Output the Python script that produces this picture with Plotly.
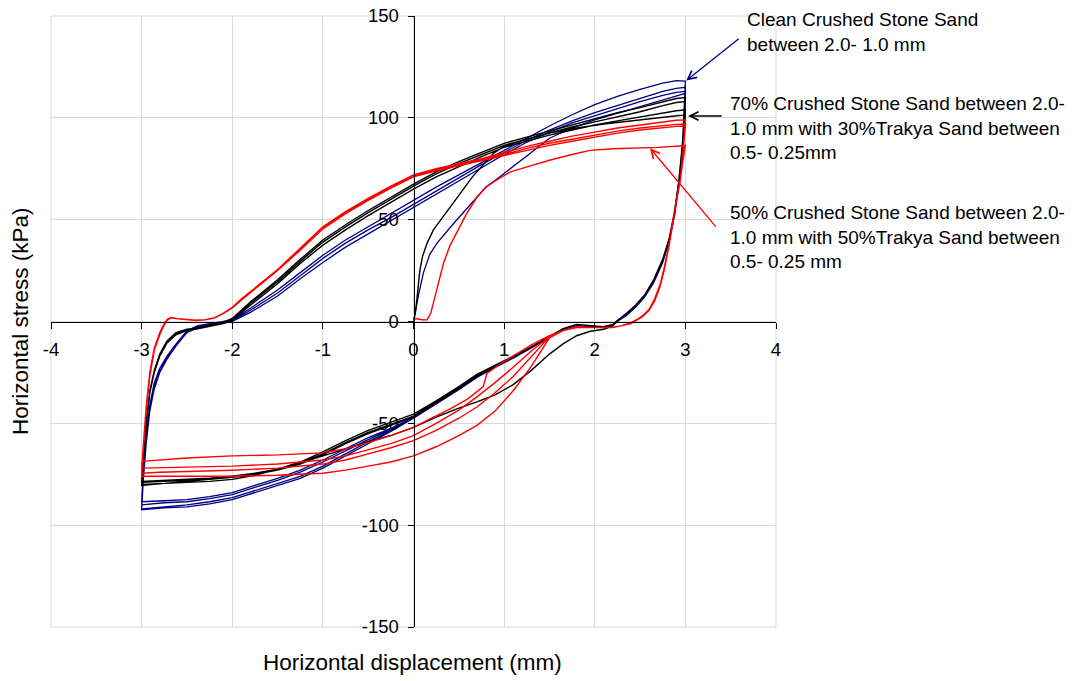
import plotly.graph_objects as go

# ---------------- tick labels ----------------
X_TICKS = [-4, -3, -2, -1, 0, 1, 2, 3, 4]
X_TICK_TEXT = ['-4', '-3', '-2', '-1', '0', '1', '2', '3', '4']
Y_TICKS = [-150, -100, -50, 0, 50, 100, 150]
Y_TICK_TEXT = ['-150', '-100', '-50', '0', '50', '100', '150']

# ---------------- Clean crushed stone sand (blue) ----------------
BLUE_INIT_X = [0.0, 0.02, 0.06, 0.11, 0.18, 0.26, 0.35, 0.44, 0.55, 0.65, 0.8, 0.95, 1.1, 1.3, 1.5, 1.75, 2.0, 2.3, 2.6, 2.85, 3.0]
BLUE_INIT_Y = [0.0, 5, 14, 24, 33, 38.5, 43.5, 48, 53.5, 58.5, 66, 71, 76, 83, 90, 95, 99, 103, 107, 110, 112]
BLUE_DOWN_X = [3.0, 2.97, 2.93, 2.88, 2.82, 2.75, 2.65, 2.55, 2.45, 2.35, 2.25, 2.2, 2.1, 1.95, 1.8, 1.65, 1.5, 1.3, 1.1, 0.9,
               0.7, 0.5, 0.25, 0.0, -0.25, -0.5, -0.75, -1.0, -1.25, -1.5, -1.75, -2.0, -2.25, -2.5, -2.75, -3.0]
BLUE_DOWN_Y = [
    [112, 86, 68, 52, 39, 29, 19, 12, 7, 3, 0, -2, -3, -2.5, -2, -4, -8, -13, -18, -22.5,
     -27.5, -33.5, -40.5, -47, -52.5, -57, -62.5, -68, -73, -77, -80.5, -84, -86, -87.5, -88, -88.5],
    [118, 89, 70, 53, 40, 30, 20, 12.5, 7.5, 3.5, 0.5, -1.5, -2.5, -2.5, -2, -4, -8, -13, -17.5, -22,
     -27, -33, -40, -47, -53.5, -59, -65, -71, -76, -79.5, -83, -86.5, -88.5, -90, -91, -92],
    [115, 88, 69, 52, 39, 29, 19, 12, 7, 3, 0, -2, -3, -2.5, -2, -4, -8, -13, -17.5, -22,
     -27, -33, -40, -47.5, -54, -60, -66, -72, -77, -80.5, -84, -87.5, -89.5, -91, -91.5, -92.5],
    [113, 87, 68, 52, 39, 29, 19, 12, 7, 3, 0, -2, -3, -2.5, -2, -4, -8, -13, -18, -22.5,
     -27.5, -33.5, -40.5, -47.5, -53, -58, -63.5, -69, -74, -78, -81.5, -85, -87, -88.5, -89, -90],
]
BLUE_UP_X = [-3.0, -2.98, -2.95, -2.91, -2.86, -2.8, -2.72, -2.62, -2.5, -2.38, -2.25, -2.1, -2.0, -1.8, -1.5, -1.25, -1.0,
             -0.75, -0.5, -0.25, 0.0, 0.25, 0.5, 0.75, 1.0, 1.25, 1.5, 1.75, 2.0, 2.25, 2.5, 2.75, 2.9, 3.0]
BLUE_UP_Y = [
    [-88.5, -74, -57, -41, -30, -23, -17, -11, -4.5, -2, -1, -0.2, 0.8, 6.5, 15.5, 24, 32.5,
     40, 46.5, 53, 59.5, 66, 72, 78, 84, 90, 96, 101.5, 106.5, 110.5, 114, 117, 118.3, 118],
    [-92, -76, -59, -43, -32, -24.5, -18, -11.5, -5, -2.5, -1.3, -0.5, 0.3, 5.5, 14, 22.5, 31,
     38.5, 45, 51, 57.5, 64, 70.5, 77, 83, 89, 94, 98.5, 102.5, 106, 109.5, 113, 114.5, 115],
    [-92.5, -77, -60, -44, -33, -25, -18.5, -12, -5.5, -3, -1.6, -0.8, 0, 4.5, 12.5, 21, 29,
     36.5, 43, 49.5, 56, 62.5, 69, 75.5, 82, 88, 93, 97.5, 101, 104.5, 108, 111, 112.5, 113],
]

# ---------------- 70% crushed stone + 30% Trakya sand (black) ----------------
BLACK_INIT_X = [0.0, 0.02, 0.04, 0.07, 0.1, 0.15, 0.22, 0.33, 0.44, 0.55, 0.65, 0.75, 0.88, 1.0, 1.2, 1.5, 1.8, 2.1, 2.4, 2.7, 2.9, 3.0]
BLACK_INIT_Y = [0.0, 4, 12, 25, 32, 38.5, 45, 51.5, 58, 65, 71, 76, 82.5, 86, 89, 92.5, 95, 97, 98.5, 100, 101, 101.5]
BLACK_DOWN_X = [3.0, 2.97, 2.93, 2.88, 2.82, 2.75, 2.65, 2.55, 2.45, 2.35, 2.25, 2.2, 2.1, 1.95, 1.8, 1.65, 1.5, 1.3, 1.1, 0.9,
                0.7, 0.5, 0.25, 0.0, -0.25, -0.5, -0.75, -1.0, -1.25, -1.5, -1.75, -2.0, -2.25, -2.5, -2.75, -3.0]
BLACK_DOWN_Y = [
    [101.5, 84, 68, 53, 40, 30, 20, 13, 8, 4, 0.5, -2, -3.8, -4.8, -7, -11, -16, -24, -31, -36,
     -39.5, -42.5, -47, -52, -56, -59, -62.5, -66, -69.5, -72.5, -75, -76.5, -77.5, -78.5, -79.5, -80],
    [110, 86, 69, 53.5, 40.5, 30.5, 20.5, 13, 8, 4, 0.5, -1.5, -2.5, -2, -1.5, -3.5, -7.5, -12.5, -17, -21.5,
     -26, -32, -39, -45.5, -49.5, -53.5, -58.5, -64, -69, -72.5, -75.5, -77.5, -78.5, -79, -79.5, -80.5],
    [108, 85, 68.5, 53, 40, 30, 20, 13, 8, 4, 0.5, -1.5, -2.5, -2, -1.5, -3.5, -7.5, -12.5, -17, -21.5,
     -26.5, -32.5, -39.5, -46.5, -50.5, -54.5, -59.5, -65, -69.5, -72.5, -74.5, -76, -77, -77.5, -78, -78.5],
    [104, 84, 68, 53, 40, 30, 20, 13, 8, 4, 0.5, -1.5, -2.5, -2, -1.5, -3.5, -7.5, -12.5, -17.5, -22,
     -27, -33, -40, -47, -51, -55, -60, -65.5, -70, -73, -75, -76.5, -77.5, -78, -78.5, -79],
]
BLACK_UP_X = [-3.0, -2.98, -2.95, -2.91, -2.86, -2.8, -2.72, -2.62, -2.5, -2.38, -2.25, -2.1, -2.0, -1.8, -1.5, -1.25, -1.0,
              -0.75, -0.5, -0.25, 0.0, 0.25, 0.5, 0.75, 1.0, 1.25, 1.5, 1.75, 2.0, 2.25, 2.5, 2.75, 2.9, 3.0]
BLACK_UP_Y = [
    [-80, -66, -50, -34, -24, -16, -9.5, -5.5, -3.8, -3.2, -2, -0.3, 1.5, 9.5, 20.5, 30.5, 40,
     47.5, 54.5, 61, 67.5, 73.5, 78.5, 83, 87.5, 90.5, 93.5, 96.5, 99.5, 102.5, 105, 108, 109.5, 110],
    [-80.5, -67, -51, -35, -25, -16.5, -10, -6, -4, -3.4, -2.2, -0.6, 1, 9, 19.5, 29.5, 39,
     46.5, 53.5, 60, 66.5, 72.5, 77.5, 82, 86.5, 89.5, 92.5, 95.5, 98, 100.5, 103, 106, 107.5, 108],
    [-78.5, -66, -51, -35, -25, -17, -10.5, -6.5, -4.3, -3.6, -2.4, -1, 0.5, 8, 18.5, 28.5, 37.5,
     45, 52, 58.5, 65, 71, 76, 81, 85.5, 88.5, 91.5, 94, 96.5, 98.5, 100.5, 102.5, 103.5, 104],
]

# ---------------- 50% crushed stone + 50% Trakya sand (red) ----------------
RED_INIT_X = [0.0, 0.01, 0.05, 0.1, 0.15, 0.19, 0.23, 0.27, 0.33, 0.4, 0.48, 0.58, 0.7, 0.8, 0.9, 1.07, 1.3, 1.51, 1.75, 1.95,
              2.2, 2.45, 2.7, 2.94, 3.0]
RED_INIT_Y = [0.0, 1.5, 1.2, 0.8, 0.8, 4, 11, 18, 28.5, 37, 44, 52.5, 61, 66, 69, 73.5, 76.5, 79.3, 82, 84,
              84.8, 85.1, 85.5, 86.2, 86.5]
RED_DOWN_X = [3.0, 2.97, 2.94, 2.9, 2.86, 2.82, 2.77, 2.72, 2.66, 2.6, 2.53, 2.47, 2.4, 2.3, 2.2, 2.0, 1.8, 1.65, 1.5, 1.3,
              1.1, 0.9, 0.7, 0.5, 0.25, 0.0, -0.25, -0.5, -0.75, -1.0, -1.5, -2.0, -2.5, -2.8, -3.0]
RED_DOWN_Y = [
    [86.5, 78, 68, 59, 48, 37, 26, 17, 10, 5.5, 2.5, 1, -1, -2, -3, -3, -3, -4.5, -8, -22,
     -34, -44, -51, -56, -61.5, -66, -69, -71, -73, -74.5, -75.5, -76, -76, -76, -76],
    [99, 81, 69, 60, 49, 38, 27, 18, 11, 6, 3, 1, -0.5, -2, -2.8, -3, -2.5, -4.5, -7.5, -17,
     -27, -35, -42, -47.5, -53.5, -58.5, -62, -65, -68, -70, -72, -73, -73.5, -74, -74.5],
    [97, 80, 69, 60, 49, 38, 27, 18, 11, 6, 3, 1, -0.5, -2, -2.8, -3, -2.5, -4.5, -7.5, -14.5,
     -22.5, -30, -37, -43.5, -50, -56, -60, -63, -66, -68, -70, -71, -71.5, -72, -72],
]
RED_UP_X = [-3.0, -2.98, -2.95, -2.91, -2.86, -2.8, -2.76, -2.72, -2.68, -2.6, -2.5, -2.4, -2.3, -2.2, -2.1, -2.0, -1.9, -1.75,
            -1.5, -1.25, -1.0, -0.75, -0.5, -0.25, 0.0, 0.25, 0.5, 0.75, 1.0, 1.25, 1.5, 1.75, 2.0, 2.25, 2.5, 2.75, 2.9, 3.0]
RED_UP_Y = [
    [-76, -62, -44, -27, -14, -6.5, -2.5, 0.5, 1.8, 1.4, 0.9, 0.6, 0.9, 1.8, 4, 7, 11, 16.5,
     25.5, 36, 46.5, 54, 60.5, 66.5, 72, 75, 77.5, 80, 83, 86, 88.5, 91, 93, 95, 96.5, 98, 98.8, 99],
    [-74.5, -61, -43, -26, -13.5, -6, -2, 0.8, 1.8, 1.3, 0.8, 0.5, 0.8, 1.7, 3.8, 6.7, 10.5, 16,
     25, 35.5, 46, 53.5, 60, 66, 71.5, 74.5, 77, 79.5, 82, 85, 87.5, 89.5, 91.5, 93.5, 95, 96.3, 96.8, 97],
    [-72, -60, -42, -25, -13, -5.5, -1.8, 1, 2, 1.4, 0.9, 0.6, 0.9, 1.8, 4, 6.8, 10.8, 16.2,
     25, 35, 45.5, 53, 59.5, 65.5, 71, 74, 76.5, 79, 81.5, 84, 86.5, 88.5, 90.5, 92.5, 94, 95.3, 95.8, 96],
]
RED_LAST_DOWN_X = [3.0, 2.97, 2.94, 2.9, 2.86, 2.82, 2.77, 2.72, 2.66, 2.6, 2.53, 2.47, 2.4, 2.3, 2.2, 2.0, 1.8, 1.65, 1.5,
                   1.3, 1.1, 0.95, 0.81, 0.77, 0.6, 0.4, 0.22, 0.0, -0.25, -0.5, -0.75, -1.0, -1.5, -2.0, -2.5, -2.8, -3.0]
RED_LAST_DOWN_Y = [96, 80, 68, 59, 48, 37, 26, 17, 10, 5.5, 2.5, 1, -0.5, -2, -2.8, -3, -2.5, -4.5, -7,
                   -11.5, -17, -21, -25.5, -32, -38, -43, -47, -52, -56, -59.5, -62.5, -64.5, -65.5, -66, -67, -68, -68.7]

# ---------------- annotation texts ----------------
LABEL_BLUE = 'Clean Crushed Stone Sand<br>between 2.0- 1.0 mm'
LABEL_BLACK = '70% Crushed Stone Sand between 2.0-<br>1.0 mm with 30%Trakya Sand between<br>0.5- 0.25mm'
LABEL_RED = '50% Crushed Stone Sand between 2.0-<br>1.0 mm with 50%Trakya Sand between<br>0.5- 0.25 mm'

BLUE = '#000080'
BLACK = '#000000'
RED = '#FF0000'
FONT = 'Liberation Sans, Arial, sans-serif'


def build_path(init_x, init_y, down_x, downs, up_x, ups, last_x=None, last_y=None):
    xs, ys = list(init_x), list(init_y)
    for i, d in enumerate(downs):
        xs += list(down_x)
        ys += list(d)
        if i < len(ups):
            xs += list(up_x)
            ys += list(ups[i])
    if last_x is not None:
        xs += list(last_x)
        ys += list(last_y)
    return xs, ys


bx, by = build_path(BLUE_INIT_X, BLUE_INIT_Y, BLUE_DOWN_X, BLUE_DOWN_Y, BLUE_UP_X, BLUE_UP_Y)
kx, ky = build_path(BLACK_INIT_X, BLACK_INIT_Y, BLACK_DOWN_X, BLACK_DOWN_Y, BLACK_UP_X, BLACK_UP_Y)
rx, ry = build_path(RED_INIT_X, RED_INIT_Y, RED_DOWN_X, RED_DOWN_Y, RED_UP_X, RED_UP_Y,
                    RED_LAST_DOWN_X, RED_LAST_DOWN_Y)

fig = go.Figure()
fig.add_trace(go.Scatter(x=bx, y=by, mode='lines', line=dict(color=BLUE, width=1.3), name='Clean'))
fig.add_trace(go.Scatter(x=kx, y=ky, mode='lines', line=dict(color=BLACK, width=1.4), name='70%'))
fig.add_trace(go.Scatter(x=rx, y=ry, mode='lines', line=dict(color=RED, width=1.4), name='50%'))

axis_common = dict(
    showgrid=True, gridcolor='#d9d9d9', gridwidth=1,
    showline=True, linecolor='black', linewidth=1,
    ticks='outside', ticklen=6, tickcolor='black', tickwidth=1,
    zeroline=False, anchor='free', position=0.5, automargin=False,
    tickfont=dict(family=FONT, size=18.5, color='black'),
)

fig.update_layout(
    width=1083, height=681,
    margin=dict(l=51, r=307, t=16, b=54, autoexpand=False),
    paper_bgcolor='white', plot_bgcolor='white',
    showlegend=False,
    font=dict(family=FONT, color='black'),
    xaxis=dict(range=[-4, 4], tickmode='array', tickvals=X_TICKS, ticktext=X_TICK_TEXT,
               ticklabelstandoff=5, **axis_common),
    yaxis=dict(range=[-150, 150], tickmode='array', tickvals=Y_TICKS, ticktext=Y_TICK_TEXT,
               ticklabelstandoff=5, **axis_common),
    shapes=[dict(type='rect', xref='paper', yref='paper', x0=0, x1=1, y0=0, y1=1,
                 line=dict(color='#d9d9d9', width=1), layer='below')],
)

annotations = [
    dict(text='Horizontal displacement (mm)', xref='paper', yref='paper', x=0.4986, y=-0.0584,
         xanchor='center', yanchor='middle', showarrow=False, font=dict(family=FONT, size=22.5)),
    dict(text='Horizontal stress (kPa)', xref='paper', yref='paper', x=-0.0428, y=0.5008,
         xanchor='center', yanchor='middle', textangle=-90, showarrow=False, font=dict(family=FONT, size=22.5)),
    dict(text=LABEL_BLUE, xref='paper', yref='paper', x=0.9572, y=0.9733, xanchor='left', yanchor='middle',
         align='left', showarrow=False, font=dict(family=FONT, size=19)),
    dict(text=LABEL_BLACK, xref='paper', yref='paper', x=0.9334, y=0.8170, xanchor='left', yanchor='middle',
         align='left', showarrow=False, font=dict(family=FONT, size=19)),
    dict(text=LABEL_RED, xref='paper', yref='paper', x=0.9334, y=0.6375, xanchor='left', yanchor='middle',
         align='left', showarrow=False, font=dict(family=FONT, size=19)),
    # arrows (head at data point, tail offset in pixels)
    dict(text='', x=3.01, y=118.3, xref='x', yref='y', ax=54, ay=-43, showarrow=True,
         arrowhead=5, arrowsize=1.3, arrowwidth=1.3, arrowcolor=BLUE),
    dict(text='', x=3.03, y=100.9, xref='x', yref='y', ax=35, ay=0, showarrow=True,
         arrowhead=5, arrowsize=1.3, arrowwidth=1.3, arrowcolor=BLACK),
    dict(text='', x=2.61, y=85.1, xref='x', yref='y', ax=67, ay=80, showarrow=True,
         arrowhead=5, arrowsize=1.3, arrowwidth=1.3, arrowcolor=RED),
]
fig.update_layout(annotations=annotations)

fig.write_html('out.html')
